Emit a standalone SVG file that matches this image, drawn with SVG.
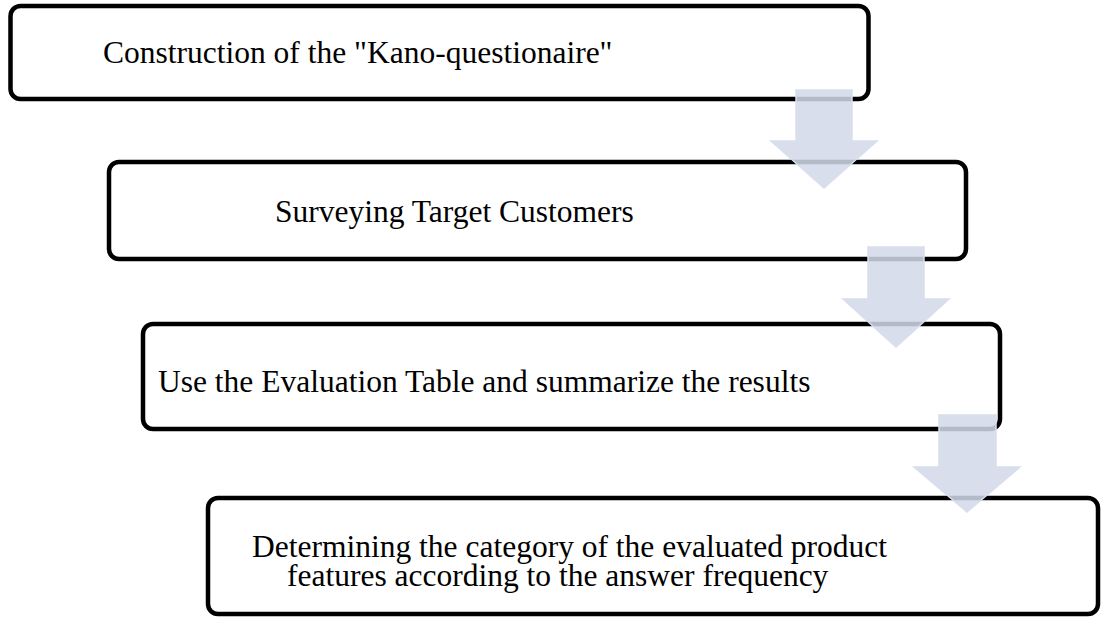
<svg xmlns="http://www.w3.org/2000/svg" width="1103" height="619" viewBox="0 0 1103 619">
<style>
.box{fill:#ffffff;stroke:#000000;stroke-width:4.5}
.lbl{font-family:"Liberation Serif","Times New Roman",serif;font-size:31.5px;fill:#000000}
.arr{fill:#d2d9e9;fill-opacity:0.86;stroke:#d8deeb;stroke-width:1.5}
</style>
<rect width="1103" height="619" fill="#ffffff"/>
<g id="node1"><rect class="box" x="10.5" y="6" width="858" height="93" rx="10"/><text class="lbl" x="103" y="63">Construction of the "Kano-questionaire"</text></g>
<g id="node2"><rect class="box" x="109" y="162" width="857" height="97" rx="10"/><text class="lbl" x="275" y="222">Surveying Target Customers</text></g>
<g id="node3"><rect class="box" x="143" y="324" width="857" height="105" rx="10"/><text class="lbl" x="158" y="392">Use the Evaluation Table and summarize the results</text></g>
<g id="node4"><rect class="box" x="208" y="498" width="890" height="116" rx="10"/><text class="lbl" x="252" y="557">Determining the category of the evaluated product</text><text class="lbl" x="287" y="586">features according to the answer frequency</text></g>
<g id="connectors">
<path class="arr" d="M796,90 H852 V141 H877 L824,188 L771,141 H796 Z"/>
<path class="arr" d="M868,247 H924 V299 H949 L896,347 L843,299 H868 Z"/>
<path class="arr" d="M939,415 H996 V467 H1020 L967,512 L914,467 H939 Z"/>
</g>
</svg>
